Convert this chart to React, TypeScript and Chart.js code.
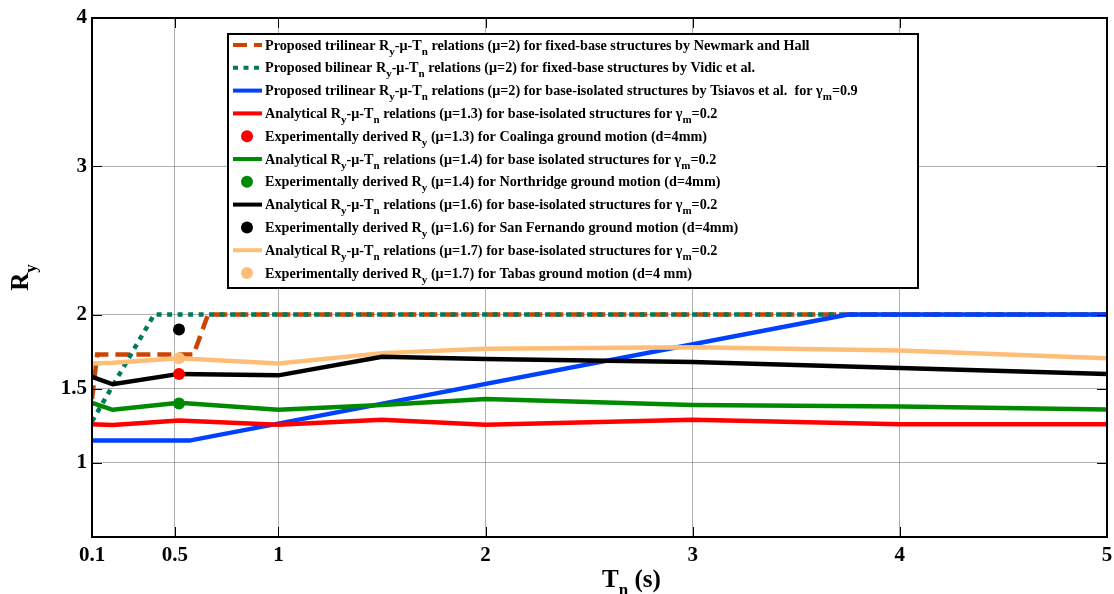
import { useEffect, useRef } from 'react';
import { Chart, registerables } from 'chart.js';

Chart.register(...registerables);

// ---- axis ticks ----
const xTicks = [0.1, 0.5, 1, 2, 3, 4, 5];
const yTicks = [1, 1.5, 2, 3, 4];

// ---- series ----
const newmarkPeriods = [0.1, 0.125, 0.59, 0.66, 5];
const newmarkRy = [1.43, 1.73, 1.73, 2, 2];
const vidicPeriods = [0.1, 0.4, 5];
const vidicRy = [1.28, 2, 2];
const tsiavosPeriods = [0.1, 0.57, 3.75, 5];
const tsiavosRy = [1.15, 1.15, 2, 2];
const analyticPeriods = [0.1, 0.2, 0.52, 1, 1.5, 2, 3, 4, 5];
const analyticMu13 = [1.26, 1.255, 1.285, 1.257, 1.29, 1.257, 1.29, 1.26, 1.26];
const analyticMu14 = [1.405, 1.358, 1.405, 1.358, 1.39, 1.43, 1.39, 1.38, 1.36];
const analyticMu16 = [1.58, 1.53, 1.6, 1.59, 1.716, 1.7, 1.68, 1.64, 1.6];
const analyticMu17 = [1.67, 1.675, 1.705, 1.67, 1.74, 1.77, 1.78, 1.757, 1.705];
const expPeriod = [0.52];
const expCoalinga = [1.6];
const expNorthridge = [1.4];
const expSanFernando = [1.9];
const expTabas = [1.705];

// ---- legend labels (_{...} = subscript) ----
const labels = [
  'Proposed trilinear R_{y}-\u03bc-T_{n} relations (\u03bc=2) for fixed-base structures by Newmark and Hall',
  'Proposed bilinear R_{y}-\u03bc-T_{n} relations (\u03bc=2) for fixed-base structures by Vidic et al.',
  'Proposed trilinear R_{y}-\u03bc-T_{n} relations (\u03bc=2) for base-isolated structures by Tsiavos et al.  for \u03b3_{m}=0.9',
  'Analytical R_{y}-\u03bc-T_{n} relations (\u03bc=1.3) for base-isolated structures for \u03b3_{m}=0.2',
  'Experimentally derived R_{y} (\u03bc=1.3) for Coalinga ground motion (d=4mm)',
  'Analytical R_{y}-\u03bc-T_{n} relations (\u03bc=1.4) for base isolated structures for \u03b3_{m}=0.2',
  'Experimentally derived R_{y} (\u03bc=1.4) for Northridge ground motion (d=4mm)',
  'Analytical R_{y}-\u03bc-T_{n} relations (\u03bc=1.6) for base-isolated structures for \u03b3_{m}=0.2',
  'Experimentally derived R_{y} (\u03bc=1.6) for San Fernando ground motion (d=4mm)',
  'Analytical R_{y}-\u03bc-T_{n} relations (\u03bc=1.7) for base-isolated structures for \u03b3_{m}=0.2',
  'Experimentally derived R_{y} (\u03bc=1.7) for Tabas ground motion (d=4 mm)',
];

const xTitle = 'T_{n} (s)';
const yTitle = 'R_{y}';

const SERIF = '"Liberation Serif", "Times New Roman", serif';

const pts = (xs: number[], ys: number[]) => xs.map((x, i) => ({ x, y: ys[i] }));

function drawRich(ctx: CanvasRenderingContext2D, text: string, x: number, y: number, size: number, subSize: number, subDy: number) {
  const re = /_\{([^}]*)\}/g;
  let last = 0;
  let cx = x;
  let m: RegExpExecArray | null;
  const put = (s: string, sz: number, dy: number) => {
    if (!s) return;
    ctx.font = `bold ${sz}px ${SERIF}`;
    ctx.fillText(s, cx, y + dy);
    cx += ctx.measureText(s).width;
  };
  while ((m = re.exec(text)) !== null) {
    put(text.slice(last, m.index), size, 0);
    put(m[1], subSize, subDy);
    last = m.index + m[0].length;
  }
  put(text.slice(last), size, 0);
  return cx - x;
}

function measureRich(ctx: CanvasRenderingContext2D, text: string, size: number, subSize: number) {
  const re = /_\{([^}]*)\}/g;
  let last = 0;
  let w = 0;
  let m: RegExpExecArray | null;
  const meas = (s: string, sz: number) => {
    ctx.font = `bold ${sz}px ${SERIF}`;
    w += ctx.measureText(s).width;
  };
  while ((m = re.exec(text)) !== null) {
    meas(text.slice(last, m.index), size);
    meas(m[1], subSize);
    last = m.index + m[0].length;
  }
  meas(text.slice(last), size);
  return w;
}

const decorPlugin = {
  id: 'decor',
  afterDraw(chart: any) {
    const ctx: CanvasRenderingContext2D = chart.ctx;
    const { left, right, top, bottom } = chart.chartArea;
    const xs = chart.scales.x;
    const ys = chart.scales.y;
    ctx.save();
    // inner tick marks
    ctx.strokeStyle = '#000';
    ctx.lineWidth = 1;
    const tl = 10;
    ctx.beginPath();
    xTicks.forEach((v) => {
      const px = Math.round(xs.getPixelForValue(v)) + 0.5;
      ctx.moveTo(px, bottom);
      ctx.lineTo(px, bottom - tl);
      ctx.moveTo(px, top);
      ctx.lineTo(px, top + tl);
    });
    yTicks.forEach((v) => {
      const py = Math.round(ys.getPixelForValue(v)) + 0.5;
      ctx.moveTo(left, py);
      ctx.lineTo(left + tl, py);
      ctx.moveTo(right, py);
      ctx.lineTo(right - tl, py);
    });
    ctx.stroke();
    // frame
    ctx.lineWidth = 2;
    ctx.strokeRect(left, top, right - left, bottom - top);

    // legend
    const lx = 228, ly = 34, lw = 690, lh = 254;
    ctx.fillStyle = '#fff';
    ctx.fillRect(lx, ly, lw, lh);
    ctx.lineWidth = 2;
    ctx.strokeStyle = '#000';
    ctx.strokeRect(lx, ly, lw, lh);
    const fs = 14.2;
    chart.data.datasets.forEach((ds: any, i: number) => {
      const cy = 45 + i * 22.8;
      if (ds.showLine === false) {
        ctx.fillStyle = ds.pointBackgroundColor;
        ctx.beginPath();
        ctx.arc(247, cy, 6, 0, Math.PI * 2);
        ctx.fill();
      } else {
        ctx.strokeStyle = ds.borderColor;
        ctx.lineWidth = 4;
        ctx.setLineDash(ds.borderDash || []);
        ctx.lineCap = 'butt';
        ctx.beginPath();
        ctx.moveTo(233, cy);
        ctx.lineTo(262, cy);
        ctx.stroke();
        ctx.setLineDash([]);
      }
      ctx.fillStyle = '#000';
      ctx.textBaseline = 'alphabetic';
      ctx.textAlign = 'left';
      drawRich(ctx, ds.label, 265, cy + 4.5, fs, 11, 5);
    });

    // axis titles
    ctx.fillStyle = '#000';
    ctx.textAlign = 'left';
    ctx.textBaseline = 'alphabetic';
    drawRich(ctx, xTitle, 602, 587, 25, 17, 8);
    const yw = measureRich(ctx, yTitle, 25, 17);
    ctx.translate(28, (top + bottom) / 2 + yw / 2);
    ctx.rotate(-Math.PI / 2);
    drawRich(ctx, yTitle, 0, 0, 25, 17, 8);
    ctx.restore();
  },
};

export default function App() {
  const ref = useRef<HTMLCanvasElement | null>(null);
  useEffect(() => {
    if (!ref.current) return;
    const lineDs = (label: string, xsArr: number[], ysArr: number[], color: string, order: number, dash?: number[]) => ({
      label,
      data: pts(xsArr, ysArr),
      showLine: true,
      borderColor: color,
      backgroundColor: color,
      borderWidth: 4.5,
      borderDash: dash || [],
      borderCapStyle: 'butt',
      pointRadius: 0,
      pointHoverRadius: 0,
      tension: 0,
      fill: false,
      order,
    });
    const dotDs = (label: string, y: number[], color: string) => ({
      label,
      data: pts(expPeriod, y),
      showLine: false,
      pointRadius: 6,
      pointBackgroundColor: color,
      pointBorderColor: color,
      pointBorderWidth: 0,
      backgroundColor: color,
      borderColor: color,
      order: 0,
    });
    const chart = new Chart(ref.current, {
      type: 'scatter',
      data: {
        datasets: [
          lineDs(labels[0], newmarkPeriods, newmarkRy, '#CC4400', 9, [14, 7]),
          lineDs(labels[1], vidicPeriods, vidicRy, '#007A5C', 8, [5, 5.5]),
          lineDs(labels[2], tsiavosPeriods, tsiavosRy, '#0040FF', 7),
          lineDs(labels[3], analyticPeriods, analyticMu13, '#FF0000', 3),
          dotDs(labels[4], expCoalinga, '#FF0000'),
          lineDs(labels[5], analyticPeriods, analyticMu14, '#008A00', 4),
          dotDs(labels[6], expNorthridge, '#008A00'),
          lineDs(labels[7], analyticPeriods, analyticMu16, '#000000', 5),
          dotDs(labels[8], expSanFernando, '#000000'),
          lineDs(labels[9], analyticPeriods, analyticMu17, '#FFBE78', 6),
          dotDs(labels[10], expTabas, '#FFBE78'),
        ] as any,
      },
      options: {
        animation: false,
        responsive: false,
        devicePixelRatio: 1,
        layout: { padding: { left: 0, top: 18, right: 7, bottom: 0 } },
        plugins: { legend: { display: false }, tooltip: { enabled: false } },
        events: [],
        scales: {
          x: {
            type: 'linear',
            min: 0.1,
            max: 5,
            afterBuildTicks: (s: any) => {
              s.ticks = xTicks.map((v) => ({ value: v }));
            },
            afterFit: (s: any) => {
              s.height = 57;
              s.paddingLeft = 0;
              s.paddingRight = 0;
            },
            grid: { color: 'rgba(110,110,110,0.55)', lineWidth: 1, drawTicks: false },
            border: { display: false },
            ticks: {
              autoSkip: false,
              maxRotation: 0,
              padding: 6,
              color: '#000',
              font: { family: SERIF, weight: 'bold', size: 21 },
              callback: (v: any) => String(v),
            },
          },
          y: {
            type: 'linear',
            min: 0.5,
            max: 4,
            afterBuildTicks: (s: any) => {
              s.ticks = yTicks.map((v) => ({ value: v }));
            },
            afterFit: (s: any) => {
              s.width = 92;
              s.paddingTop = 0;
              s.paddingBottom = 0;
            },
            grid: { color: 'rgba(110,110,110,0.55)', lineWidth: 1, drawTicks: false },
            border: { display: false },
            ticks: {
              autoSkip: false,
              padding: 5,
              color: '#000',
              font: { family: SERIF, weight: 'bold', size: 21 },
              callback: (v: any) => String(v),
            },
          },
        },
      } as any,
      plugins: [decorPlugin],
    });
    return () => chart.destroy();
  }, []);
  return (
    <div style={{ position: 'fixed', left: 0, top: 0, width: 1114, height: 594, background: '#fff' }}>
      <canvas ref={ref} width={1114} height={594} />
    </div>
  );
}
